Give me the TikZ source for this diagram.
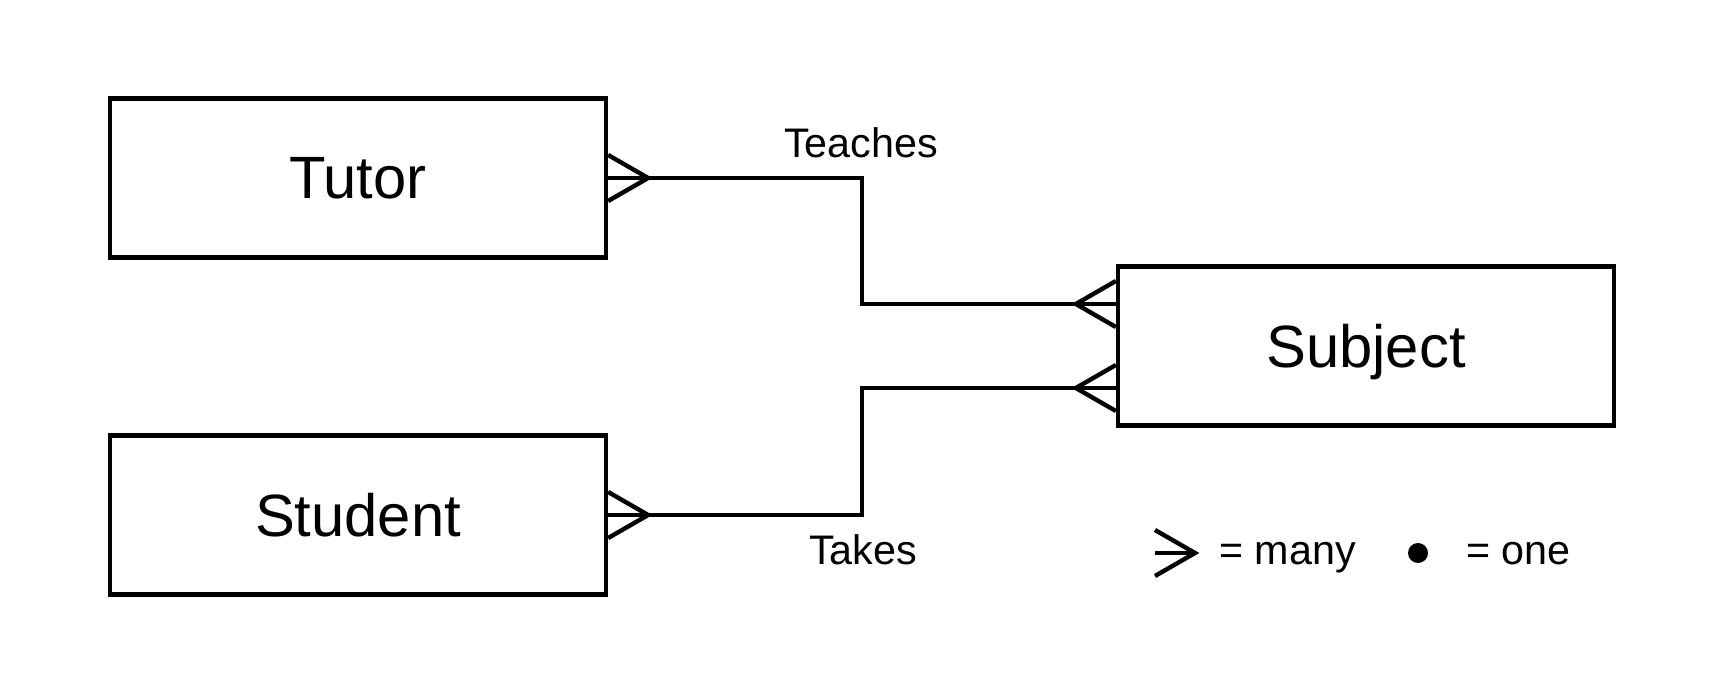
\documentclass[tikz,border=0pt]{standalone}
\usepackage{fontspec}
\setmainfont{Liberation Sans}
\usetikzlibrary{positioning,calc}

\begin{document}
\begin{tikzpicture}[
  x=0.02cm, y=-0.02cm, line width=2.5pt,
  entity/.style={draw, line width=2.5pt, minimum width=9.92cm,
                 minimum height=3.18cm, inner sep=0pt, text depth=0pt,
                 font=\fontsize{34}{40}\selectfont},
  rel/.style={draw, line width=2.5pt},
  rellabel/.style={font=\fontsize{23.5}{28}\selectfont, inner sep=0pt},
  legendtext/.style={font=\fontsize{23.5}{28}\selectfont, inner sep=0pt, anchor=base west},
  crowfoot/.pic={\draw[line width=2.5pt] (0,-23) -- (40,0) -- (0,23);
                 \draw[line width=2.5pt] (0,0) -- (40,0);},
]
\useasboundingbox (0,0) rectangle (1726,692);

% Entities
\node[entity] (tutor)   at (358,178)  {Tutor};
\node[entity] (student) at (358,515)  {Student};
\node[entity] (subject) at (1366,346) {Subject};

% Join points
\coordinate (teachjoin) at ($(subject.west)+(0,-42)$);
\coordinate (takejoin)  at ($(subject.west)+(0,42)$);
\coordinate (teachmid)  at (862,240);
\coordinate (takemid)   at (862,450);

% Relationships
\draw[rel] (tutor.east) -| (teachmid) |- (teachjoin);
\draw[rel] (student.east) -| (takemid) |- (takejoin);
\node[rellabel] (teaches) at (861,143) {Teaches};
\node[rellabel] (takes)   at (863,550) {Takes};

% Crow's feet (many)
\pic at (tutor.east) {crowfoot};
\pic at (student.east) {crowfoot};
\pic[rotate=180] at (teachjoin) {crowfoot};
\pic[rotate=180] at (takejoin) {crowfoot};

% Legend
\pic at (1155,553) {crowfoot};
\node[legendtext] (manylbl) at (1217,564) {= many};
\node[circle, fill, minimum size=0.4cm, inner sep=0pt] (onedot) at (1418,553) {};
\node[legendtext] (onelbl) at (1464,564) {= one};

\end{tikzpicture}
\end{document}
